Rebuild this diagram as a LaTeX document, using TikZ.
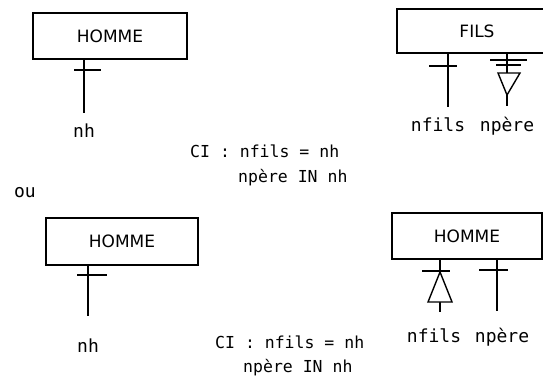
\documentclass[tikz,border=0pt]{standalone}
\usepackage{fontspec}
\setmainfont{DejaVu Sans}
\setmonofont{DejaVu Sans Mono}
\tikzset{
  entite/.style={draw, line width=2.6pt, inner sep=0pt, font=\fontsize{17}{20}\selectfont},
  etiq/.style={font=\ttfamily\fontsize{18}{22}\selectfont, inner sep=0pt, anchor=base},
  contr/.style={font=\ttfamily\fontsize{16.5}{20}\selectfont, inner sep=0pt, anchor=base west},
  lien/.style={line width=1.4pt},
}
\begin{document}
\begin{tikzpicture}[x=1pt,y=-1pt]
    \useasboundingbox (0,0) rectangle (543,386);
    % HOMME -- FILS
    \node[entite, minimum width=154pt, minimum height=46pt] (hom1) at (110,36) {HOMME};
    \node[entite, minimum width=160pt, minimum height=44pt] (fils) at (477,31) {FILS};
    \node[etiq] (nh1) at (84,137) {nh};
    \node[etiq] (nf1) at (438,131) {nfils};
    \node[etiq] (np1) at (507,131) {npère};
    \draw[lien, shorten >=10pt] (hom1.south -| nh1) -- (nh1.north);
    \draw[lien] (74,70) -- (101,70);
    \draw[lien, shorten >=10pt] ([xshift=10pt]nf1.north |- fils.south) -- ([xshift=10pt]nf1.north);
    \draw[lien] (429,66) -- (457,66);
    \draw[lien, shorten >=10pt] (fils.south -| np1) -- (np1.north);
    \draw[lien] (490,60) -- (527,60);
    \draw[lien] (496,65) -- (521,65);
    \draw[lien, fill=white] (498,73) -- (520,73) -- (507,95) -- cycle;
    \node[contr] (ci1) at (190,157) {CI : nfils = nh};
    \node[contr] (ci1b) at (238,182) {npère IN nh};

    \node[etiq] (ou) at (25,197) {ou};

    % HOMME -- HOMME
    \node[entite, minimum width=152pt, minimum height=47pt] (hom2) at (122,241.5) {HOMME};
    \node[entite, minimum width=150pt, minimum height=46pt] (hom3) at (467,236) {HOMME};
    \node[etiq] (nh2) at (88,352) {nh};
    \node[etiq] (nf3) at (434,342) {nfils};
    \node[etiq] (np3) at (502,342) {npère};
    \draw[lien, shorten >=22pt] (hom2.south -| nh2) -- (nh2.north);
    \draw[lien] (77,275) -- (107,275);
    \draw[lien, shorten >=16pt] ([xshift=6pt]nf3.north |- hom3.south) -- ([xshift=6pt]nf3.north);
    \draw[lien] (422,271) -- (450,271);
    \draw[lien, fill=white] (440,272) -- (452,302) -- (428,302) -- cycle;
    \draw[lien, shorten >=16pt] ([xshift=-5pt]np3.north |- hom3.south) -- ([xshift=-5pt]np3.north);
    \draw[lien] (479,270) -- (508,270);
    \node[contr] (ci2) at (215,348) {CI : nfils = nh};
    \node[contr] (ci2b) at (243,372) {npère IN nh};
\end{tikzpicture}
\end{document}
